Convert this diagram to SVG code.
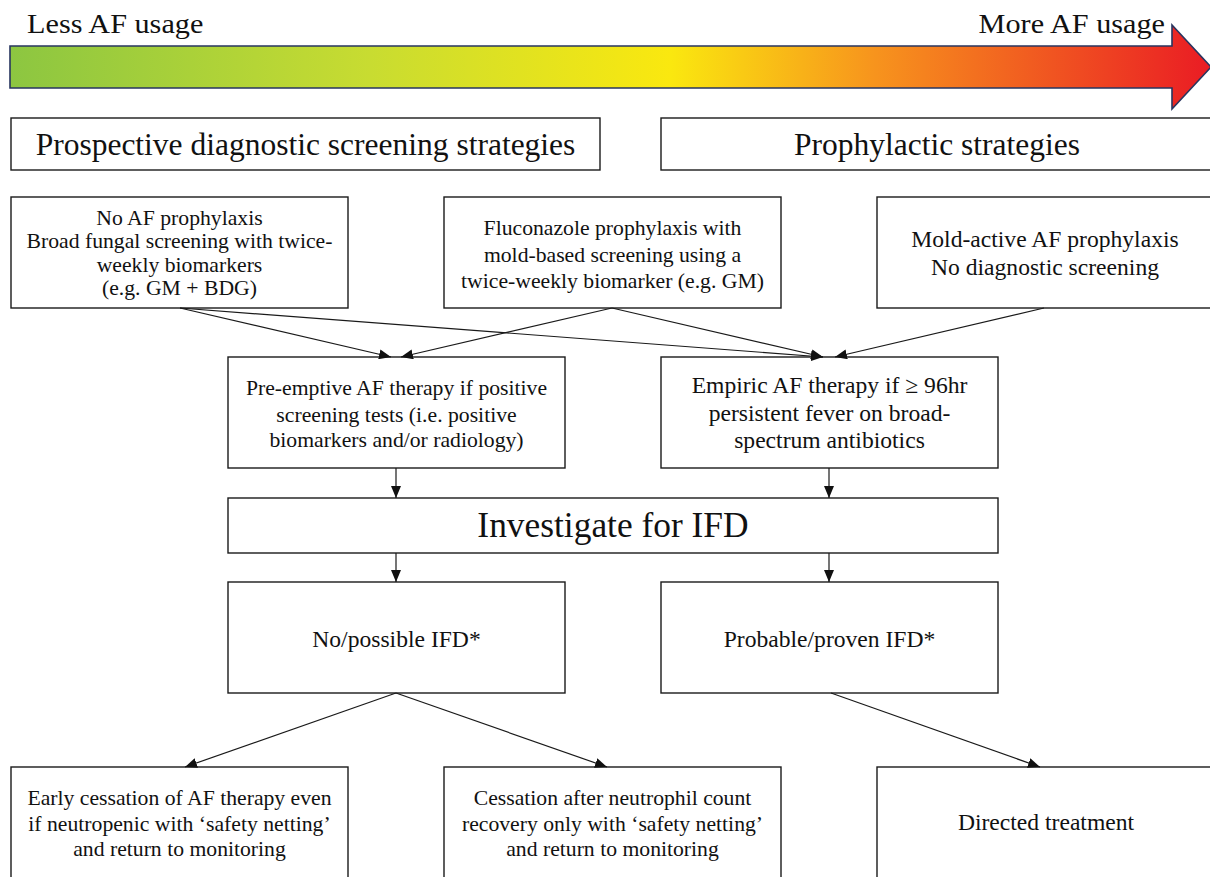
<svg xmlns="http://www.w3.org/2000/svg" width="1210" height="877" viewBox="0 0 1210 877">
<style>
.box{fill:#fff;stroke:#1a1a1a;stroke-width:1.4}
.t{font-family:"Liberation Serif","Times New Roman",serif;fill:#111;text-anchor:middle}
.s{font-size:21.7px}
.m{font-size:23.6px}
.h{font-size:31.5px}
.lab{font-size:27px}
.c{stroke:#1a1a1a;stroke-width:1.2;fill:none;marker-end:url(#ah)}
</style>
<defs>
<linearGradient id="g" x1="10" y1="0" x2="1210" y2="0" gradientUnits="userSpaceOnUse">
<stop offset="0" stop-color="#8cc641"/>
<stop offset="0.3" stop-color="#c8dc31"/>
<stop offset="0.55" stop-color="#fae80f"/>
<stop offset="0.72" stop-color="#f7941d"/>
<stop offset="1" stop-color="#ea1c24"/>
</linearGradient>
<marker id="ah" viewBox="0 0 12 10" refX="12" refY="5" markerWidth="12" markerHeight="10" markerUnits="userSpaceOnUse" orient="auto">
<path d="M0,0 L12,5 L0,10 z" fill="#111"/>
</marker>
</defs>
<rect width="1210" height="877" fill="#fff"/>

<g id="scale">
<polygon points="10,46 1172,46 1172,25 1211,67 1172,109 1172,88 10,88" fill="url(#g)" stroke="#27355f" stroke-width="1.6"/>
<text class="t lab" transform="matrix(1.12,0,0,1,27,33)" style="text-anchor:start">Less AF usage</text>
<text class="t lab" transform="matrix(1.12,0,0,1,1165,33)" style="text-anchor:end">More AF usage</text>
</g>

<g id="hdr-screening">
<rect class="box" x="11" y="118" width="589" height="52"/>
<text class="t h" x="305.5" y="155">Prospective diagnostic screening strategies</text>
</g>
<g id="hdr-prophylactic">
<rect class="box" x="661" y="118" width="560" height="52"/>
<text class="t h" x="937" y="155">Prophylactic strategies</text>
</g>

<g id="boxA">
<rect class="box" x="11" y="197" width="337" height="111"/>
<text class="t s" x="179.5" y="225">No AF prophylaxis</text>
<text class="t s" x="179.5" y="248">Broad fungal screening with twice-</text>
<text class="t s" x="179.5" y="272">weekly biomarkers</text>
<text class="t s" x="179.5" y="295">(e.g. GM + BDG)</text>
</g>
<g id="boxB">
<rect class="box" x="444" y="197" width="337" height="111"/>
<text class="t s" x="612.5" y="235">Fluconazole prophylaxis with</text>
<text class="t s" x="612.5" y="262">mold-based screening using a</text>
<text class="t s" x="612.5" y="288">twice-weekly biomarker (e.g. GM)</text>
</g>
<g id="boxC">
<rect class="box" x="877" y="197" width="344" height="111"/>
<text class="t m" x="1045" y="247">Mold-active AF prophylaxis</text>
<text class="t m" x="1045" y="275">No diagnostic screening</text>
</g>

<g id="preemptive">
<rect class="box" x="228" y="357" width="337" height="111"/>
<text class="t s" x="396.5" y="395">Pre-emptive AF therapy if positive</text>
<text class="t s" x="396.5" y="422">screening tests (i.e. positive</text>
<text class="t s" x="396.5" y="447">biomarkers and/or radiology)</text>
</g>
<g id="empiric">
<rect class="box" x="661" y="357" width="337" height="111"/>
<text class="t m" x="829.5" y="393">Empiric AF therapy if ≥ 96hr</text>
<text class="t m" x="829.5" y="421">persistent fever on broad-</text>
<text class="t m" x="829.5" y="448">spectrum antibiotics</text>
</g>

<g id="investigate">
<rect class="box" x="228" y="498" width="770" height="55"/>
<text class="t" x="613" y="537" style="font-size:35.4px">Investigate for IFD</text>
</g>

<g id="nopossible">
<rect class="box" x="228" y="582" width="337" height="111"/>
<text class="t m" x="396.5" y="647">No/possible IFD*</text>
</g>
<g id="probable">
<rect class="box" x="661" y="582" width="337" height="111"/>
<text class="t m" x="829.5" y="647">Probable/proven IFD*</text>
</g>

<g id="early">
<rect class="box" x="11" y="767" width="337" height="120"/>
<text class="t s" x="179.5" y="805">Early cessation of AF therapy even</text>
<text class="t s" x="179.5" y="831">if neutropenic with ‘safety netting’</text>
<text class="t s" x="179.5" y="856">and return to monitoring</text>
</g>
<g id="after">
<rect class="box" x="444" y="767" width="337" height="120"/>
<text class="t s" x="612.5" y="805">Cessation after neutrophil count</text>
<text class="t s" x="612.5" y="831">recovery only with ‘safety netting’</text>
<text class="t s" x="612.5" y="856">and return to monitoring</text>
</g>
<g id="directed">
<rect class="box" x="877" y="767" width="344" height="120"/>
<text class="t m" x="1046" y="830">Directed treatment</text>
</g>

<g id="connectors">
<line class="c" x1="180" y1="308" x2="391" y2="357"/>
<line class="c" x1="180" y1="308" x2="823" y2="357"/>
<line class="c" x1="612" y1="308" x2="401" y2="357"/>
<line class="c" x1="612" y1="308" x2="823" y2="357"/>
<line class="c" x1="1044" y1="308" x2="835" y2="357"/>
<line class="c" x1="396" y1="468" x2="396" y2="498"/>
<line class="c" x1="829" y1="468" x2="829" y2="498"/>
<line class="c" x1="396" y1="553" x2="396" y2="582"/>
<line class="c" x1="829" y1="553" x2="829" y2="582"/>
<line class="c" x1="396" y1="693" x2="185" y2="767"/>
<line class="c" x1="396" y1="693" x2="607" y2="767"/>
<line class="c" x1="831" y1="693" x2="1040" y2="767"/>
</g>
</svg>
